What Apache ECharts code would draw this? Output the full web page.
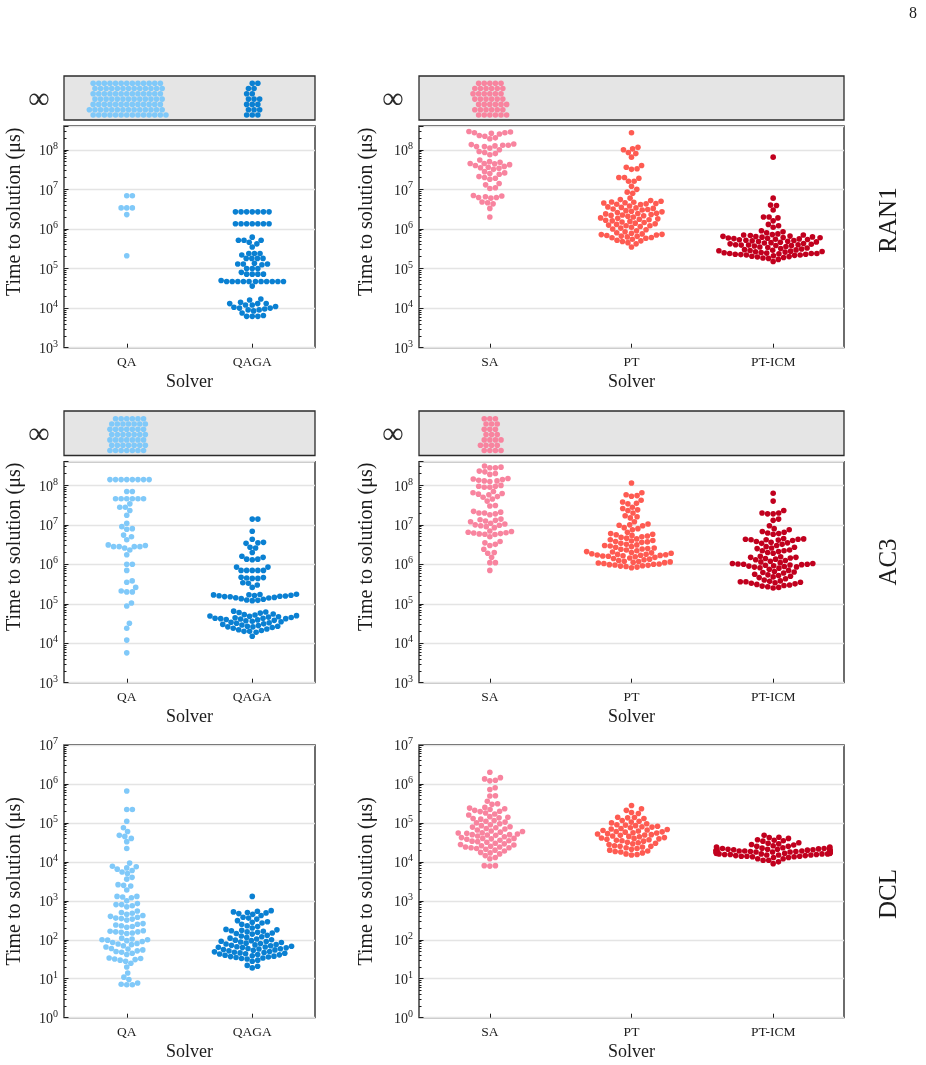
<!DOCTYPE html>
<html>
<head>
<meta charset="utf-8">
<script src="https://cdn.jsdelivr.net/npm/echarts@6/dist/echarts.min.js"></script>
<style>
  html, body { margin: 0; padding: 0; background: #fff; }
  #chart { width: 926px; height: 1065px; }
</style>
</head>
<body>
<div id="chart"></div>
<script>
// solver names per column
let leftNames = ['QA', 'QAGA'];
let rightNames = ['SA', 'PT', 'PT-ICM'];
let instanceNames = ['RAN1', 'AC3', 'DCL'];

// time to solution (us), one entry per instance that was solved
let ran1QA = [6.9e6, 6.9e6, 3.4e6, 3.4e6, 3.4e6, 2.3e6, 2.1e5];
let ran1QAGA = [2.7e6, 2.7e6, 2.7e6, 2.7e6, 2.7e6, 2.7e6, 2.7e6,
  1.35e6, 1.35e6, 1.35e6, 1.35e6, 1.35e6, 1.35e6, 1.35e6,
  6.2e5, 5.2e5, 5.2e5, 5.2e5, 4.6e5, 4.2e5, 3.5e5,
  2.4e5, 2.4e5, 2.4e5, 2.2e5, 1.8e5, 1.8e5, 1.8e5, 1.8e5,
  1.35e5, 1.3e5, 1.3e5, 1.3e5, 1.25e5, 1.0e5, 1.0e5, 1.0e5,
  8e4, 7.2e4, 7.2e4, 7.2e4, 7.2e4, 5.0e4,
  4.7e4, 4.7e4, 4.7e4, 4.7e4, 4.7e4, 4.7e4, 4.7e4, 4.7e4, 4.7e4, 4.7e4, 4.7e4, 3.6e4,
  1.7e4, 1.6e4, 1.4e4, 1.3e4, 1.3e4, 1.3e4, 1.2e4, 1.2e4, 1.1e4, 1.05e4,
  1.0e4, 1.0e4, 9.5e3, 9e3, 9e3, 8.5e3, 7.5e3, 6.5e3, 6.2e3, 6.2e3, 6.2e3];
let ran1SA = [2.9e8, 2.8e8, 2.7e8, 2.7e8, 2.6e8, 2.5e8, 2.3e8, 2.2e8, 2.0e8, 1.9e8,
  1.4e8, 1.35e8, 1.3e8, 1.3e8, 1.25e8, 1.2e8, 1.2e8, 1.1e8, 1.0e8, 9e7, 8.5e7, 8e7, 7.5e7,
  5.5e7, 5e7, 4.8e7, 4.5e7, 4.5e7, 4.4e7, 4.2e7, 4e7, 3.8e7, 3.6e7, 3.5e7, 3.4e7, 3.2e7,
  2.8e7, 2.6e7, 2.5e7, 2.4e7, 2.1e7, 2.0e7, 1.9e7, 1.8e7, 1.4e7, 1.3e7, 1.1e7, 1.05e7,
  7e6, 6.8e6, 6.5e6, 6.2e6, 6.2e6, 6e6, 4.8e6, 4.6e6, 4.3e6, 3.3e6, 2.0e6];
let ran1PT = [2.7e8, 1.15e8, 1.05e8, 1.0e8, 8.5e7, 8e7, 6.5e7, 4e7, 3.6e7, 3.3e7, 3.2e7,
  2.0e7, 2.0e7, 1.9e7, 1.6e7, 1.6e7, 1.2e7, 1.0e7, 8.5e6, 8e6,
  6e6, 5.5e6, 5.2e6, 5e6, 4.8e6, 4.7e6, 4.6e6, 4.5e6, 4.4e6, 4.3e6, 4.2e6, 4.1e6,
  3.8e6, 3.6e6, 3.5e6, 3.4e6, 3.3e6, 3.2e6, 3.1e6, 3.0e6, 2.9e6, 2.8e6, 2.7e6, 2.6e6,
  2.5e6, 2.45e6, 2.4e6, 2.3e6, 2.25e6, 2.2e6, 2.15e6, 2.1e6, 2.0e6,
  1.9e6, 1.85e6, 1.8e6, 1.75e6, 1.7e6, 1.65e6, 1.6e6, 1.55e6, 1.5e6, 1.45e6, 1.4e6,
  1.35e6, 1.3e6, 1.25e6, 1.2e6, 1.2e6, 1.15e6, 1.1e6, 1.05e6, 1.0e6,
  9.5e5, 9e5, 8.5e5, 8e5, 7.8e5, 7.5e5, 7.3e5, 7.2e5, 7e5, 6.8e5, 6.6e5, 6.5e5, 6.3e5,
  6.1e5, 6e5, 5.8e5, 5.5e5, 5.2e5, 5e5, 4.8e5, 4.5e5, 4.2e5, 3.5e5];
let ran1PTICM = [6.5e7, 6e6, 4e6, 3.9e6, 3e6, 2e6, 2e6, 1.9e6, 1.6e6, 1.3e6, 1.2e6, 1.1e6,
  9e5, 8.5e5, 8e5, 7.5e5, 7.2e5, 7e5, 7e5, 6.8e5, 6.6e5, 6.5e5, 6.4e5, 6.3e5, 6.2e5, 6.1e5,
  6e5, 5.9e5, 5.8e5, 5.7e5, 5.6e5, 5.5e5, 5.4e5, 5.3e5, 5.2e5, 5.1e5, 5e5, 4.9e5, 4.8e5,
  4.7e5, 4.6e5, 4.5e5, 4.4e5, 4.3e5, 4.2e5, 4.1e5, 4e5, 4e5, 3.9e5, 3.9e5, 3.8e5, 3.8e5,
  3.7e5, 3.6e5, 3.5e5, 3.4e5, 3.3e5, 3.2e5, 3.1e5, 3e5, 2.95e5, 2.9e5, 2.85e5, 2.8e5,
  2.75e5, 2.7e5, 2.65e5, 2.6e5, 2.55e5, 2.5e5, 2.45e5, 2.4e5, 2.4e5, 2.4e5, 2.35e5,
  2.3e5, 2.3e5, 2.25e5, 2.2e5, 2.2e5, 2.15e5, 2.1e5, 2.05e5, 2.0e5, 1.95e5, 1.9e5,
  1.85e5, 1.8e5, 1.7e5, 1.5e5];

let ac3QA = [1.4e8, 1.4e8, 1.4e8, 1.4e8, 1.4e8, 1.4e8, 1.4e8, 1.4e8, 7e7, 7e7,
  4.6e7, 4.6e7, 4.6e7, 4.6e7, 4.6e7, 4.6e7, 3.4e7, 2.8e7, 2.8e7, 2.3e7, 1.75e7,
  1.1e7, 9e6, 8e6, 7.7e6, 5.5e6, 5e6, 4.2e6, 3.1e6, 3.0e6, 2.8e6, 2.8e6, 2.8e6, 2.8e6,
  2.6e6, 2.3e6, 1.75e6, 1.0e6, 1.0e6, 7e5, 3.8e5, 3.5e5, 2.6e5, 2.1e5, 2e5, 2e5,
  1.05e5, 8.8e4, 3.2e4, 2.4e4, 1.2e4, 5.7e3];
let ac3QAGA = [1.4e7, 1.4e7, 6.9e6, 4.3e6, 3.6e6, 3.5e6, 3.4e6, 2.7e6, 2.6e6, 2.0e6,
  1.6e6, 1.5e6, 1.35e6, 1.35e6, 1.3e6, 8.5e5, 8.5e5, 7e5, 7e5, 7e5, 7e5, 7e5,
  4.7e5, 4.6e5, 4.5e5, 4.4e5, 4.4e5, 3.4e5, 3.3e5, 3e5, 2.6e5,
  1.75e5, 1.72e5, 1.7e5, 1.68e5, 1.65e5, 1.62e5, 1.6e5, 1.58e5, 1.55e5, 1.52e5, 1.5e5,
  1.45e5, 1.42e5, 1.4e5, 1.35e5, 1.3e5, 1.25e5, 1.22e5, 1.2e5,
  6.5e4, 6.2e4, 6e4, 5.8e4, 5.5e4, 5.3e4, 5.2e4, 5e4, 4.9e4, 4.8e4, 4.7e4, 4.6e4, 4.5e4,
  4.4e4, 4.3e4, 4.3e4, 4.2e4, 4.2e4, 4.1e4, 4.0e4, 3.9e4, 3.8e4, 3.7e4, 3.6e4, 3.5e4,
  3.4e4, 3.3e4, 3.2e4, 3.1e4, 3.0e4, 2.9e4, 2.8e4, 2.7e4, 2.7e4, 2.6e4, 2.6e4, 2.5e4,
  2.4e4, 2.3e4, 2.2e4, 2.1e4, 2.0e4, 2.0e4, 1.9e4, 1.5e4];
let ac3SA = [3.1e8, 2.9e8, 2.8e8, 2.8e8, 2.3e8, 2.2e8, 2.0e8, 1.9e8, 1.5e8, 1.45e8, 1.4e8,
  1.35e8, 1.3e8, 1.3e8, 1.25e8, 1.0e8, 9.5e7, 9.5e7, 9e7, 9e7, 7e7, 6.5e7, 6.2e7, 6e7,
  5.8e7, 5.2e7, 5e7, 4.5e7, 4e7, 3.1e7, 3e7, 2.2e7, 2.1e7, 2e7, 2e7, 1.9e7, 1.8e7,
  1.4e7, 1.35e7, 1.3e7, 1.25e7, 1.2e7, 1.1e7, 1.05e7, 1.0e7, 9.8e6, 9.5e6, 9e6, 8.5e6,
  7e6, 6.8e6, 6.5e6, 6.3e6, 6.2e6, 6e6, 5.9e6, 5.8e6, 5.7e6, 5e6, 3.8e6, 3.5e6, 3.2e6,
  3.0e6, 2.4e6, 2.0e6, 1.9e6, 1.5e6, 1.1e6, 1.1e6, 7e5];
let ac3PT = [1.15e8, 6.5e7, 5.8e7, 5.5e7, 5.3e7, 4.2e7, 3.8e7, 3.5e7, 3.4e7, 2.8e7, 2.6e7,
  2.4e7, 2.3e7, 2.0e7, 1.7e7, 1.6e7, 1.5e7, 1.2e7, 1.05e7, 1.0e7, 9.8e6, 9.5e6, 8.5e6,
  8e6, 7.5e6, 6.5e6, 6e6, 5.8e6, 5.6e6, 5.4e6, 5.2e6, 5e6, 4.8e6, 4.6e6, 4.4e6, 4.2e6,
  4e6, 3.9e6, 3.8e6, 3.7e6, 3.6e6, 3.4e6, 3.2e6, 3.1e6, 3.0e6, 2.9e6, 2.8e6, 2.7e6,
  2.6e6, 2.5e6, 2.45e6, 2.4e6, 2.3e6, 2.2e6, 2.1e6, 2.05e6, 2.0e6, 1.95e6, 1.9e6,
  1.85e6, 1.8e6, 1.78e6, 1.75e6, 1.72e6, 1.7e6, 1.68e6, 1.65e6, 1.62e6, 1.6e6, 1.55e6,
  1.5e6, 1.45e6, 1.4e6, 1.35e6, 1.3e6, 1.25e6, 1.2e6, 1.18e6, 1.15e6, 1.12e6, 1.1e6,
  1.08e6, 1.05e6, 1.02e6, 1.0e6, 9.8e5, 9.6e5, 9.4e5, 9.2e5, 9e5, 8.8e5, 8.5e5, 8.2e5];
let ac3PTICM = [6.3e7, 4e7, 2.3e7, 2.0e7, 2.0e7, 1.9e7, 1.9e7, 1.4e7, 1.3e7, 9.5e6, 8e6,
  7.5e6, 6.8e6, 6.5e6, 6.2e6, 6e6, 5.8e6, 4.5e6, 4.4e6, 4.3e6, 4.3e6, 4.2e6, 4.2e6,
  4.1e6, 4e6, 3.8e6, 3.6e6, 3.5e6, 3.4e6, 3.2e6, 3e6, 2.8e6, 2.7e6, 2.6e6, 2.5e6,
  2.3e6, 2.2e6, 2.2e6, 2.1e6, 2e6, 1.9e6, 1.6e6, 1.55e6, 1.5e6, 1.5e6, 1.45e6, 1.4e6,
  1.35e6, 1.3e6, 1.25e6, 1.2e6, 1.15e6, 1.1e6, 1.05e6, 1.05e6, 1.02e6, 1.0e6, 1.0e6,
  9.8e5, 9.6e5, 9.5e5, 9.2e5, 9e5, 8.8e5, 8.6e5, 8.5e5, 8.2e5, 8e5, 7.5e5, 7e5, 6.6e5,
  6.4e5, 6.2e5, 6e5, 5.6e5, 5.4e5, 5.2e5, 5e5, 4.8e5, 4.6e5, 4.3e5, 4e5, 3.8e5, 3.7e5,
  3.6e5, 3.6e5, 3.5e5, 3.4e5, 3.3e5, 3.2e5, 3.1e5, 3e5, 2.9e5, 2.8e5, 2.7e5, 2.6e5, 2.5e5];

let dclQA = [6.6e5, 2.2e5, 2.2e5, 1.1e5, 7.5e4, 6e4, 4.8e4, 4.5e4, 4e4, 3.3e4, 2.2e4,
  9.3e3, 7.7e3, 7.5e3, 7e3, 6.5e3, 6e3, 5.5e3, 5e3, 4e3, 3.6e3, 2.6e3, 2.5e3, 2.4e3, 1.9e3,
  1.3e3, 1.3e3, 1.25e3, 1.2e3, 1e3, 8.5e2, 8e2, 8e2, 7.5e2, 7e2, 5.5e2, 5e2, 4.8e2,
  4.5e2, 4.2e2, 4e2, 3.8e2, 3.6e2, 3.5e2, 3.4e2, 3.2e2, 2.6e2, 2.5e2, 2.4e2, 2.3e2,
  2.2e2, 2.1e2, 1.7e2, 1.65e2, 1.6e2, 1.6e2, 1.55e2, 1.5e2, 1.45e2, 1.1e2, 1.05e2,
  1.0e2, 1.0e2, 98, 95, 90, 85, 80, 78, 75, 70, 65, 60, 58, 55, 52, 50, 48, 45, 42,
  34, 33, 32, 31, 30, 28, 25, 20, 14, 11, 9.5, 7.8, 7.2, 7, 7];
let dclQAGA = [1.3e3, 5.6e2, 5.4e2, 5.2e2, 5e2, 4.9e2, 4.7e2, 4.5e2, 4.2e2, 3.8e2, 3.6e2,
  3.4e2, 3.1e2, 2.9e2, 2.8e2, 2.7e2, 2.5e2, 2.3e2, 2.2e2, 2e2,
  1.85e2, 1.8e2, 1.75e2, 1.7e2, 1.65e2, 1.6e2, 1.55e2, 1.5e2, 1.45e2, 1.4e2,
  1.3e2, 1.25e2, 1.2e2, 1.15e2, 1.1e2, 1.05e2, 1.0e2, 98, 95, 92,
  90, 88, 85, 82, 80, 78, 76, 74, 72, 70, 68,
  66, 65, 64, 63, 62, 60, 59, 58, 56, 55, 54, 52,
  50, 49, 48, 47, 46, 45, 44, 43, 42, 41, 40,
  39, 38, 37, 36, 35, 34, 33, 32, 30, 28, 22, 21, 19];
let dclSA = [2e6, 1.45e6, 1.35e6, 1.25e6, 1.2e6, 8e5, 7.2e5, 5e5, 4.9e5, 3.6e5, 3.1e5, 3e5,
  2.5e5, 2.4e5, 2.3e5, 2.2e5, 2.1e5, 2e5, 1.95e5, 1.8e5, 1.7e5, 1.6e5,
  1.45e5, 1.4e5, 1.35e5, 1.3e5, 1.25e5, 1.15e5, 1.1e5, 1.05e5,
  1e5, 9.5e4, 9e4, 8.5e4, 8e4, 7.8e4, 7.5e4, 7.2e4, 7e4, 6.6e4,
  6.2e4, 6e4, 5.8e4, 5.6e4, 5.5e4, 5.4e4, 5.2e4, 5e4, 5e4,
  4.9e4, 4.8e4, 4.6e4, 4.4e4, 4.2e4, 4e4, 4e4, 3.9e4, 3.8e4, 3.6e4, 3.5e4,
  3.4e4, 3.3e4, 3.2e4, 3e4, 2.9e4, 2.8e4, 2.7e4, 2.6e4, 2.5e4,
  2.4e4, 2.4e4, 2.3e4, 2.3e4, 2.2e4, 2.1e4, 2e4, 1.9e4,
  1.75e4, 1.7e4, 1.6e4, 1.45e4, 1.3e4, 1.2e4, 8e3, 8e3, 7.8e3];
let dclPT = [2.8e5, 2.3e5, 2.1e5, 1.85e5, 1.75e5, 1.4e5, 1.38e5, 1.35e5, 1.3e5, 1.15e5,
  1.1e5, 1.05e5, 1e5, 9.5e4, 9e4, 8.8e4, 8.5e4, 8.2e4, 8e4, 7.8e4, 7.5e4, 7.2e4,
  7e4, 6.8e4, 6.6e4, 6.4e4, 6.2e4, 6e4, 5.9e4, 5.8e4, 5.6e4, 5.5e4,
  5.3e4, 5.2e4, 5e4, 4.9e4, 4.8e4, 4.6e4, 4.5e4, 4.4e4, 4.2e4, 4.1e4,
  4e4, 3.9e4, 3.8e4, 3.7e4, 3.6e4, 3.5e4, 3.4e4, 3.2e4, 3.1e4, 3e4,
  2.9e4, 2.8e4, 2.6e4, 2.5e4, 2.5e4, 2.4e4, 2.3e4, 2.2e4, 2.1e4,
  2e4, 1.9e4, 1.85e4, 1.8e4, 1.7e4, 1.6e4, 1.55e4, 1.5e4];
let dclPTICM = [4.8e4, 4.3e4, 4.2e4, 4e4, 3.7e4, 3.6e4, 3.5e4, 3.4e4, 3.1e4, 3e4, 2.9e4,
  2.8e4, 2.7e4, 2.6e4, 2.5e4, 2.5e4, 2.4e4, 2.4e4, 2.3e4, 2.3e4, 2.25e4, 2.2e4, 2.2e4,
  2.2e4, 2.15e4, 2.1e4, 2.1e4, 2.1e4, 2.05e4, 2.05e4, 2e4, 2e4, 2e4, 2e4, 2e4, 2e4,
  1.95e4, 1.95e4, 1.95e4, 1.95e4, 1.9e4, 1.9e4, 1.9e4, 1.9e4, 1.9e4, 1.85e4, 1.85e4,
  1.85e4, 1.85e4, 1.8e4, 1.8e4, 1.8e4, 1.8e4, 1.8e4, 1.75e4, 1.75e4, 1.75e4, 1.75e4,
  1.7e4, 1.7e4, 1.7e4, 1.7e4, 1.65e4, 1.65e4, 1.65e4, 1.6e4, 1.6e4, 1.6e4, 1.6e4,
  1.55e4, 1.55e4, 1.55e4, 1.5e4, 1.5e4, 1.5e4, 1.45e4, 1.45e4, 1.4e4, 1.4e4, 1.4e4,
  1.35e4, 1.35e4, 1.3e4, 1.3e4, 1.2e4, 1.2e4, 1.1e4, 1.1e4, 1.0e4, 9e3];

// number of instances never solved (shown in the infinity strip)
let ran1Inf = { QA: 93, QAGA: 18, SA: 41, PT: 0, 'PT-ICM': 0 };
let ac3Inf = { QA: 48, QAGA: 0, SA: 24, PT: 0, 'PT-ICM': 0 };

let colors = { QA: '#80c9f9', QAGA: '#0a80d2', SA: '#f8849f', PT: '#fe5b52', 'PT-ICM': '#c1001e' };

let rows = [
  { data: { QA: ran1QA, QAGA: ran1QAGA, SA: ran1SA, PT: ran1PT, 'PT-ICM': ran1PTICM },
    inf: ran1Inf, top: 126, height: 221.7, lo: 3, hi: 8.6, infTop: 76, infHeight: 44, labelY: 220 },
  { data: { QA: ac3QA, QAGA: ac3QAGA, SA: ac3SA, PT: ac3PT, 'PT-ICM': ac3PTICM },
    inf: ac3Inf, top: 461.7, height: 221, lo: 3, hi: 8.6, infTop: 411, infHeight: 44.5, labelY: 562 },
  { data: { QA: dclQA, QAGA: dclQAGA, SA: dclSA, PT: dclPT, 'PT-ICM': dclPTICM },
    inf: null, top: 745, height: 272.7, lo: 0, hi: 7, labelY: 894 }
];
let columns = [
  { names: leftNames, left: 64, width: 251, infX: 39, nameX: 15 },
  { names: rightNames, left: 419, width: 425, infX: 393, nameX: 367 }
];

let DOT = 5.6;
let FONT = 'Liberation Serif';
let INK = '#1c1c1c';

// beeswarm: place each point (in value order) at the free x closest to the centre,
// points that do not fit inside the gutter are pushed onto it
function swarm(ys, half) {
  let order = ys.map((y, i) => i).sort((a, b) => ys[a] - ys[b]);
  let xs = [];
  let placed = [];
  order.forEach(i => {
    let y = ys[i];
    let near = placed.filter(p => Math.abs(p.y - y) < DOT);
    let cands = [0];
    near.forEach(p => {
      let dx = Math.sqrt(DOT * DOT - (p.y - y) * (p.y - y));
      cands.push(p.x + dx, p.x - dx);
    });
    cands.sort((a, b) => Math.abs(a) - Math.abs(b));
    let x = cands.find(c => near.every(p => (p.x - c) * (p.x - c) + (p.y - y) * (p.y - y) >= DOT * DOT - 1e-6));
    xs[i] = x;
    placed.push({ x: x, y: y });
  });
  return xs.map(x => Math.max(-half, Math.min(half, x)));
}

let grids = [], xAxes = [], yAxes = [], series = [], graphics = [];

function supLabel(v) {
  let e = Math.log10(v);
  if (Math.abs(e - Math.round(e)) > 1e-6) return '';
  return '{b|10}{s|' + Math.round(e) + '}';
}

rows.forEach((row, r) => {
  columns.forEach((col, c) => {
    let n = col.names.length;
    let half = 0.4 * col.width / n;
    // infinity strip
    if (row.inf) {
      let g = grids.length;
      grids.push({ left: col.left, top: row.infTop, width: col.width, height: row.infHeight,
        show: true, backgroundColor: '#e5e5e5', borderColor: '#2b2b2b', borderWidth: 1.3 });
      let xi = xAxes.length;
      xAxes.push({ gridIndex: g, type: 'value', min: -0.5, max: n - 0.5, show: false });
      let yi = yAxes.length;
      yAxes.push({ gridIndex: g, type: 'value', min: 0, max: 1, show: false });
      col.names.forEach((name, k) => {
        let count = row.inf[name];
        if (!count) return;
        // unsolved instances have no value: spread them over seven staggered rows
        let ys = [];
        for (let i = 0; i < count; i++) ys.push(5 + 5.3 * (i % 7));
        let xs = swarm(ys, half);
        series.push({ type: 'scatter', xAxisIndex: xi, yAxisIndex: yi, symbolSize: DOT,
          itemStyle: { color: colors[name], opacity: 1 }, silent: true,
          data: ys.map((y, i) => [k + xs[i] * n / col.width, y / row.infHeight]) });
      });
      graphics.push({ type: 'text', x: col.infX, y: row.infTop + row.infHeight / 2 + 2,
        style: { text: '∞', font: '30px ' + FONT, fill: '#2a2a2a', textAlign: 'center', textVerticalAlign: 'middle' } });
    }
    // main panel
    let g = grids.length;
    grids.push({ left: col.left, top: row.top, width: col.width, height: row.height,
      show: true, backgroundColor: '#fff', borderColor: '#1f1f1f', borderWidth: 1.3 });
    xAxes.push({ gridIndex: g, type: 'category', data: col.names, boundaryGap: true,
      axisLine: { show: false, onZero: false },
      axisTick: { show: true, inside: true, alignWithLabel: true, length: 4, lineStyle: { color: INK } },
      axisLabel: { margin: 8, fontFamily: FONT, fontSize: 13.5, color: INK },
      name: 'Solver', nameLocation: 'middle', nameGap: 26,
      nameTextStyle: { fontFamily: FONT, fontSize: 18, color: INK } });
    let xv = xAxes.length;
    xAxes.push({ gridIndex: g, type: 'value', min: -0.5, max: n - 0.5, show: false });
    let yl = yAxes.length;
    yAxes.push({ gridIndex: g, type: 'log', logBase: 10, min: Math.pow(10, row.lo), max: Math.pow(10, row.hi),
      interval: 1, splitNumber: Math.round(row.hi - row.lo), position: 'left',
      axisLine: { show: false, onZero: false },
      axisTick: { show: true, inside: true, length: 4.5, lineStyle: { color: INK } },
      splitLine: { show: true, lineStyle: { color: '#e4e4e4', width: 1.3 } },
      axisLabel: { margin: 6, formatter: supLabel,
        rich: { b: { fontFamily: FONT, fontSize: 14, color: INK, verticalAlign: 'bottom' },
                s: { fontFamily: FONT, fontSize: 10, color: INK, verticalAlign: 'bottom', padding: [0, 0, 7, 0] } } } });
    // minor ticks at 2..9 x 10^k
    let minor = [];
    for (let e = Math.floor(row.lo); e < row.hi; e++) {
      for (let m = 2; m <= 9; m++) {
        let t = e + Math.log10(m);
        if (t > row.lo && t < row.hi) minor.push(t);
      }
    }
    yAxes.push({ gridIndex: g, type: 'value', min: row.lo, max: row.hi, position: 'left',
      axisLine: { show: false, onZero: false }, axisLabel: { show: false }, splitLine: { show: false },
      axisTick: { show: true, inside: true, length: 2.5, customValues: minor, lineStyle: { color: INK } } });
    col.names.forEach((name, k) => {
      let vals = row.data[name];
      let ys = vals.map(v => (Math.log10(v) - row.lo) / (row.hi - row.lo) * row.height);
      let xs = swarm(ys, half);
      series.push({ type: 'scatter', xAxisIndex: xv, yAxisIndex: yl, symbolSize: DOT,
        itemStyle: { color: colors[name], opacity: 1 }, silent: true,
        data: vals.map((v, i) => [k + xs[i] * n / col.width, v]) });
    });
    // y title is centred over the strip and the panel together
    let top = row.inf ? row.infTop : row.top;
    graphics.push({ type: 'text', x: col.nameX, y: (top + row.top + row.height) / 2, rotation: Math.PI / 2,
      style: { text: 'Time to solution (μs)', font: '20px ' + FONT, fill: INK, textAlign: 'center', textVerticalAlign: 'middle' } });
  });
  graphics.push({ type: 'text', x: 889, y: row.labelY, rotation: Math.PI / 2,
    style: { text: instanceNames[r], font: '25px ' + FONT, fill: INK, textAlign: 'center', textVerticalAlign: 'middle' } });
});

graphics.push({ type: 'text', x: 913, y: 14,
  style: { text: '8', font: '16px ' + FONT, fill: INK, textAlign: 'center', textVerticalAlign: 'middle' } });

let chart = echarts.init(document.getElementById('chart'), null, { renderer: 'canvas' });
chart.setOption({
  animation: false,
  backgroundColor: '#fff',
  grid: grids,
  xAxis: xAxes,
  yAxis: yAxes,
  series: series,
  graphic: graphics
});
</script>
</body>
</html>
